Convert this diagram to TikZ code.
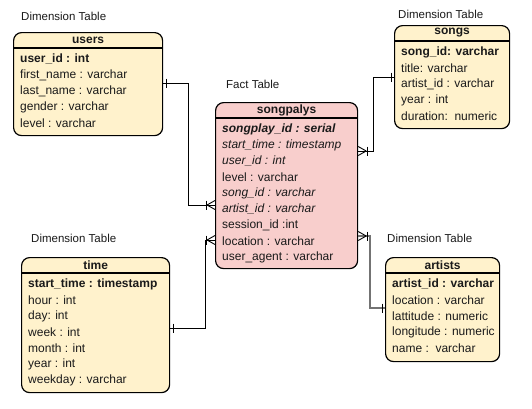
\documentclass[tikz,border=0pt]{standalone}
\usepackage{fontspec}
\setmainfont{Liberation Sans}
\usetikzlibrary{calc}
\definecolor{dimfill}{HTML}{FFF2CC}
\definecolor{factfill}{HTML}{F8CECC}
\definecolor{txt}{HTML}{1A1A1A}
\newcommand{\rowtxt}[4]{\node[rowtext] (#1) at ($(#2.north west)+(7,#3)$) {#4};}
\newcommand{\hdrtxt}[3]{\node[hdrtext] (#1) at ($(#2.north)+(0,8)$) {#3};
  \draw[hline] ($(#2.north west)+(0,16)$) -- ($(#2.north east)+(0,16)$);}
% crow's foot (one-to-many) entering a box edge; #1 = point on edge, #2 = +1 (from left) or -1 (from right)
\newcommand{\crowfoot}[2]{%
  \draw[conn] ($(#1)+(-8*#2,0)$) -- ($(#1)+(0,-4.5)$);
  \draw[conn] ($(#1)+(-8*#2,0)$) -- ($(#1)+(0,4.5)$);
  \draw[conn] ($(#1)+(-9*#2,-4.5)$) -- ($(#1)+(-9*#2,4.5)$);}
% single bar (one) next to a box edge; #2 = +1 bar right of point, -1 left
\newcommand{\onebar}[2]{%
  \draw[conn] ($(#1)+(3*#2,-4.5)$) -- ($(#1)+(3*#2,4.5)$);}
\begin{document}
\begin{tikzpicture}[x=1pt,y=-1pt,
  tbl/.style={draw=black, line width=1.2pt, rounded corners=8pt, anchor=north west, inner sep=0pt},
  hline/.style={draw=black, line width=1.2pt},
  hdrtext/.style={font=\bfseries\fontsize{12}{14}\selectfont, text=txt, inner sep=0pt},
  rowtext/.style={font=\fontsize{12}{14}\selectfont, text=txt, anchor=west, inner sep=0pt},
  lbl/.style={font=\fontsize{11.5}{14}\selectfont, text=txt, anchor=west, inner sep=0pt},
  conn/.style={draw=black, line width=0.9pt},
  gconn/.style={draw=black!55, line width=1.3pt}]
\fill[white] (0,0) rectangle (532,408);
\useasboundingbox (0,0) rectangle (532,408);

% ---------- users ----------
\node[lbl] (lusers) at (21,16) {Dimension Table};
\node[tbl, fill=dimfill, minimum width=149pt, minimum height=103pt] (users) at (13,32) {};
\hdrtxt{husers}{users}{users}
\rowtxt{u1}{users}{27}{\bfseries user\_id : int}
\rowtxt{u2}{users}{43}{first\_name : varchar}
\rowtxt{u3}{users}{59}{last\_name : varchar}
\rowtxt{u4}{users}{75}{gender : varchar}
\rowtxt{u5}{users}{91}{level : varchar}

% ---------- songplays ----------
\node[lbl] (lfact) at (226,84) {Fact Table};
\node[tbl, fill=factfill, minimum width=142pt, minimum height=166pt] (sp) at (215,102) {};
\hdrtxt{hsp}{sp}{songpalys}
\rowtxt{s1}{sp}{27}{\bfseries\itshape songplay\_id : serial}
\rowtxt{s2}{sp}{43}{\itshape start\_time : timestamp}
\rowtxt{s3}{sp}{59}{\itshape user\_id : int}
\rowtxt{s4}{sp}{75}{level : varchar}
\rowtxt{s5}{sp}{91}{\itshape song\_id : varchar}
\rowtxt{s6}{sp}{107}{\itshape artist\_id : varchar}
\rowtxt{s7}{sp}{123}{session\_id :int}
\rowtxt{s8}{sp}{139}{location : varchar}
\rowtxt{s9}{sp}{155}{user\_agent : varchar}

% ---------- songs ----------
\node[lbl] (lsongs) at (398,14) {Dimension Table};
\node[tbl, fill=dimfill, minimum width=115pt, minimum height=103pt] (songs) at (394,25) {};
\hdrtxt{hsongs}{songs}{songs}
\rowtxt{g1}{songs}{27}{\bfseries song\_id: varchar}
\rowtxt{g2}{songs}{43}{title: varchar}
\rowtxt{g3}{songs}{59}{artist\_id : varchar}
\rowtxt{g4}{songs}{75}{year : int}
\rowtxt{g5}{songs}{91}{duration:\ \ numeric}

% ---------- time ----------
\node[lbl] (ltime) at (31,238) {Dimension Table};
\node[tbl, fill=dimfill, minimum width=148pt, minimum height=135pt] (time) at (21,257) {};
\hdrtxt{htime}{time}{time}
\rowtxt{t1}{time}{27}{\bfseries start\_time : timestamp}
\rowtxt{t2}{time}{43}{hour : int}
\rowtxt{t3}{time}{59}{day: int}
\rowtxt{t4}{time}{75}{week : int}
\rowtxt{t5}{time}{91}{month : int}
\rowtxt{t6}{time}{107}{year : int}
\rowtxt{t7}{time}{123}{weekday : varchar}

% ---------- artists ----------
\node[lbl] (lartists) at (387,238) {Dimension Table};
\node[tbl, fill=dimfill, minimum width=114pt, minimum height=104pt] (artists) at (385,257) {};
\hdrtxt{hartists}{artists}{artists}
\rowtxt{a1}{artists}{27}{\bfseries artist\_id : varchar}
\rowtxt{a2}{artists}{43}{location : varchar}
\rowtxt{a3}{artists}{59}{lattitude : numeric}
\rowtxt{a4}{artists}{75}{longitude : numeric}
\rowtxt{a5}{artists}{91}{name :\ \ varchar}

% ---------- connector end points ----------
\coordinate (cu) at ($(users.north east)+(0,51)$);
\coordinate (cspu) at ($(sp.north west)+(0,103)$);
\coordinate (cspt) at ($(sp.north west)+(0,138)$);
\coordinate (csps) at ($(sp.north east)+(0,49)$);
\coordinate (cspa) at ($(sp.north east)+(0,134)$);
\coordinate (cs) at ($(songs.north west)+(0,52)$);
\coordinate (ct) at ($(time.north east)+(0,71)$);
\coordinate (ca) at ($(artists.north west)+(0,51)$);

% users -> songplays
\draw[conn] (cu) -- (188,0 |- cu) -- (188,0 |- cspu) -- (cspu);
\onebar{cu}{1}
\crowfoot{cspu}{1}
% songs -> songplays
\draw[conn] (csps) -- (373,0 |- csps) -- (373,0 |- cs) -- (cs);
\onebar{cs}{-1}
\crowfoot{csps}{-1}
% time -> songplays
\draw[conn] (ct) -- (205,0 |- ct) -- (205,0 |- cspt) -- (cspt);
\onebar{ct}{1}
\crowfoot{cspt}{1}
% artists -> songplays
\draw[gconn] (cspa) -- (370,0 |- cspa) -- (370,0 |- ca) -- (ca);
\onebar{ca}{-1}
\crowfoot{cspa}{-1}
\end{tikzpicture}
\end{document}
